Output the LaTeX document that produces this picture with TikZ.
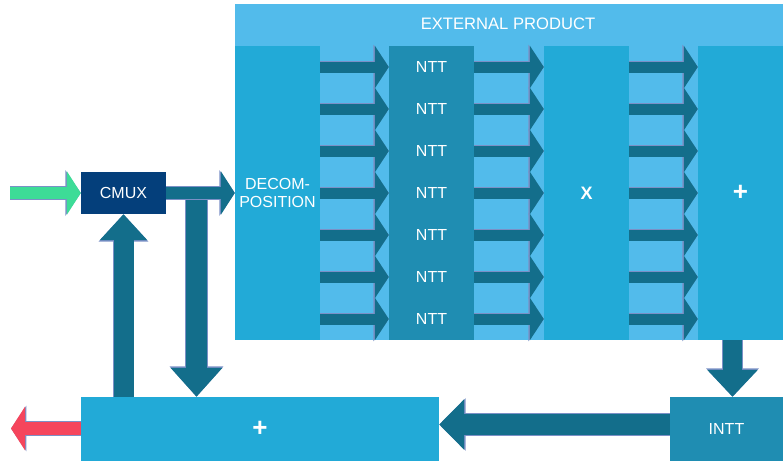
\documentclass[tikz,border=0pt]{standalone}
\usepackage{fontspec}
\setmainfont{Liberation Sans}
\usetikzlibrary{arrows.meta}
\definecolor{skyback}{HTML}{52BBEB}
\definecolor{colblue}{HTML}{22AAD7}
\definecolor{nttblue}{HTML}{1F8DB2}
\definecolor{arrowteal}{HTML}{136E8B}
\definecolor{cmuxnavy}{HTML}{043F7B}
\definecolor{ingreen}{HTML}{3DDC97}
\definecolor{outred}{HTML}{F5455C}
\definecolor{rim}{HTML}{7B90C6}
\tikzset{
  block/.style={rectangle, inner sep=0pt, text=white, font=\fontsize{16}{18}\selectfont, align=center},
  sign/.style={font=\bfseries\fontsize{#1}{#1}\selectfont},
  fat/.style n args={3}{draw=arrowteal, line width=#1, -{Triangle[length=#2,width=#3]},
    preaction={draw=rim, line width=#1+1.2pt, -{Triangle[length=#2+1.4pt,width=#3+2pt]}}},
}

\begin{document}
\begin{tikzpicture}[x=1pt,y=-1pt]
  \useasboundingbox (0,0) rectangle (784,464);

  % External product frame and its four columns
  \node (frame) at (509,172) [block, fill=skyback, minimum width=548pt, minimum height=336pt] {};
  \node (title) at (508,24) [block, font=\fontsize{16.6}{18}\selectfont] {EXTERNAL PRODUCT};
  \node (decomp) at (277.5,193) [block, fill=colblue, minimum width=85pt, minimum height=294pt] {DECOM-\\POSITION};
  \node (nttcol) at (431.5,193) [block, fill=nttblue, minimum width=85pt, minimum height=294pt] {};
  \node (mulcol) at (586.5,193) [block, fill=colblue, minimum width=85pt, minimum height=294pt, sign=18] {X};
  \node (addcol) at (740.5,193) [block, fill=colblue, minimum width=85pt, minimum height=294pt, sign=26] {+};

  % Seven NTT lanes with arrows between the columns
  \foreach \i in {1,...,7} {
    \node (ntt\i) at (431.5,25+42*\i) [block] {NTT};
    \draw [fat={11pt}{14pt}{42pt}] (decomp.east |- ntt\i) -- (nttcol.west |- ntt\i);
    \draw [fat={11pt}{14pt}{42pt}] (nttcol.east |- ntt\i) -- (mulcol.west |- ntt\i);
    \draw [fat={11pt}{14pt}{42pt}] (mulcol.east |- ntt\i) -- (addcol.west |- ntt\i);
  }

  % CMUX, accumulator and INTT blocks
  \node (cmux) at (123.5,193) [block, fill=cmuxnavy, minimum width=85pt, minimum height=42pt] {CMUX};
  \node (sum) at (260,429) [block, fill=colblue, minimum width=358pt, minimum height=64pt, sign=26] {+};
  \node (intt) at (726.5,429) [block, fill=nttblue, minimum width=113pt, minimum height=64pt] {INTT};

  % Loop connectors
  \coordinate (in) at (10,193);
  \coordinate (out) at (11,428.5);
  \coordinate (tee) at (196.5,193);
  \draw [fat={12pt}{14pt}{43pt}, draw=ingreen] (in) -- (cmux.west);
  \draw [fat={21pt}{29pt}{50pt}] (tee) -- (tee |- sum.north);
  \draw [fat={12pt}{14pt}{43pt}] (cmux.east) -- (decomp.west);
  \draw [fat={20pt}{26pt}{46pt}] (cmux.south |- sum.north) -- (cmux.south);
  \draw [fat={19pt}{27pt}{49pt}] ([xshift=-8pt]addcol.south) -- ([xshift=-8pt]addcol.south |- intt.north);
  \draw [fat={21pt}{25pt}{49pt}] ([yshift=4.5pt]intt.west) -- ([yshift=4.5pt]sum.east);
  \draw [fat={13pt}{14pt}{43pt}, draw=outred] ([yshift=0.5pt]sum.west) -- (out);
\end{tikzpicture}
\end{document}
